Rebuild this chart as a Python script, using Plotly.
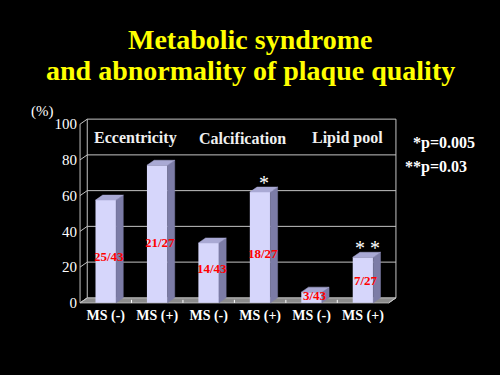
import plotly.graph_objects as go

# ---- data ----
categories = ["MS (-)", "MS (+)", "MS (-)", "MS (+)", "MS (-)", "MS (+)"]
percent = [57.5, 77.0, 33.5, 62.0, 6.0, 25.5]
ratio_labels = ["25/43", "21/27", "14/43", "18/27", "3/43", "7/27"]
groups = ["Eccentricity", "Calcification", "Lipid pool"]
y_ticks = [0, 20, 40, 60, 80, 100]
p_notes = ["*p=0.005", "**p=0.03"]
sig_marks = ["", "", "", "*", "", "* *"]

# ---- style / geometry ----
DX, DY = 0.14, 2.8          # 3D depth offset in axis units
BW = 0.40                   # bar width
FRONT = "#d6d6fb"
SIDE = "#7c7ca6"
TOP = "#a9a9d4"
GRID = "#c4c4c4"
FONT = "Liberation Serif"
n = len(categories)
x_idx = list(range(n))
x0, x1 = -0.5, n - 0.5

fig = go.Figure()

# front faces
fig.add_trace(go.Bar(x=x_idx, y=percent, width=BW, marker=dict(color=FRONT, line=dict(width=0)),
                     hoverinfo="skip", showlegend=False))

# side & top faces computed from the data
sx, sy, tx, ty = [], [], [], []
for i, v in zip(x_idx, percent):
    r = i + BW / 2
    l = i - BW / 2
    sx += [r, r + DX, r + DX, r, r, None]
    sy += [0, DY, v + DY, v, 0, None]
    tx += [l, r, r + DX, l + DX, l, None]
    ty += [v, v, v + DY, v + DY, v, None]
fig.add_trace(go.Scatter(x=sx, y=sy, fill="toself", fillcolor=SIDE, mode="lines",
                         line=dict(color=SIDE, width=0.5), hoverinfo="skip", showlegend=False))
fig.add_trace(go.Scatter(x=tx, y=ty, fill="toself", fillcolor=TOP, mode="lines",
                         line=dict(color=TOP, width=0.5), hoverinfo="skip", showlegend=False))

# back wall / grid / floor as shapes below the traces
shapes = []
top = y_ticks[-1]
shapes.append(dict(type="path", layer="below",
                   path=f"M {x0},0 L {x1},0 L {x1+DX},{DY} L {x0+DX},{DY} Z",
                   fillcolor="#8c8c8c", line=dict(color=GRID, width=1)))
for t in y_ticks[1:]:
    shapes.append(dict(type="line", layer="below", x0=x0 + DX, x1=x1 + DX, y0=t + DY, y1=t + DY,
                       line=dict(color=GRID, width=1)))
for t in y_ticks:
    shapes.append(dict(type="line", layer="below", x0=x0, x1=x0 + DX, y0=t, y1=t + DY,
                       line=dict(color=GRID, width=1)))
for k in range(n - 1):
    shapes.append(dict(type="line", layer="below", x0=k + 0.5, x1=k + 0.5, y0=0, y1=DY * 0.6,
                       line=dict(color="white", width=1)))
shapes.append(dict(type="line", layer="below", x0=x0, x1=x0, y0=0, y1=top, line=dict(color=GRID, width=1)))
shapes.append(dict(type="line", layer="below", x0=x0 + DX, x1=x0 + DX, y0=DY, y1=top + DY,
                   line=dict(color=GRID, width=1)))
shapes.append(dict(type="line", layer="below", x0=x1 + DX, x1=x1 + DX, y0=DY, y1=top + DY,
                   line=dict(color=GRID, width=1)))
shapes.append(dict(type="line", layer="below", x0=x1, x1=x1 + DX, y0=0, y1=DY,
                   line=dict(color=GRID, width=1)))

annotations = []
# ratio labels
label_y = [25.8, 34.0, 19.0, 27.5, 4.0, 12.3]
for i, (lab, ly) in enumerate(zip(ratio_labels, label_y)):
    annotations.append(dict(x=i + 0.06, y=ly, text=f"<b>{lab}</b>", showarrow=False,
                            font=dict(family=FONT, size=13, color="#ff0000")))
# significance stars
for i, (m, v) in enumerate(zip(sig_marks, percent)):
    if m:
        annotations.append(dict(x=i + 0.08, y=v + 5, text=m, showarrow=False, yanchor="middle",
                                font=dict(family=FONT, size=20, color="white")))
# group headers
group_x = [0.58, 2.66, 4.70]
for g, gx in zip(groups, group_x):
    annotations.append(dict(x=gx, y=92, text=f"<b>{g}</b>", showarrow=False,
                            font=dict(family=FONT, size=16, color="#f0f0f0")))
# p-values (paper coords)
p_pos = [(1.145, 0.862), (1.119, 0.734)]
for txt, (px_, py_) in zip(p_notes, p_pos):
    annotations.append(dict(xref="paper", yref="paper", x=px_, y=py_, text=f"<b>{txt}</b>",
                            showarrow=False, xanchor="center", yanchor="middle",
                            font=dict(family=FONT, size=16, color="white")))
# unit
annotations.append(dict(xref="paper", yref="paper", x=-0.1125, y=1.027, text="(%)", showarrow=False,
                        xanchor="center", yanchor="middle",
                        font=dict(family=FONT, size=15, color="white")))
# title
annotations.append(dict(xref="paper", yref="paper", x=0.5375, y=1.41, text="<b>Metabolic syndrome</b>",
                        showarrow=False, xanchor="center", yanchor="middle",
                        font=dict(family=FONT, size=28, color="#ffff00")))
annotations.append(dict(xref="paper", yref="paper", x=0.5375, y=1.245,
                        text="<b>and abnormality of plaque quality</b>",
                        showarrow=False, xanchor="center", yanchor="middle",
                        font=dict(family=FONT, size=28, color="#ffff00")))

fig.update_layout(
    width=500, height=375, autosize=False,
    margin=dict(l=78, r=102, t=117, b=70),
    paper_bgcolor="black", plot_bgcolor="black",
    shapes=shapes, annotations=annotations, showlegend=False,
    xaxis=dict(range=[-0.54, 5.68], tickvals=x_idx, ticktext=[f"<b>{c}</b>" for c in categories],
               showgrid=False, zeroline=False, showline=False, ticks="",
               tickfont=dict(family=FONT, size=14, color="white"), fixedrange=True),
    yaxis=dict(range=[-1.2, 104], tickvals=y_ticks, showgrid=False, zeroline=False, showline=False,
               ticks="", tickfont=dict(family=FONT, size=15, color="white"), fixedrange=True),
)

fig.write_html("out.html", config={"displayModeBar": False},
               post_script="document.body.style.margin='0';document.body.style.background='black';")
